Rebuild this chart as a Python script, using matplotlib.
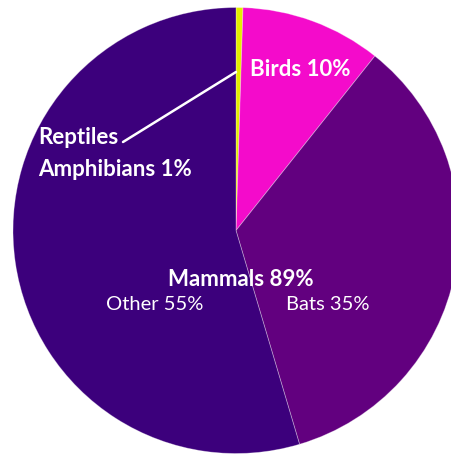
import matplotlib
matplotlib.use("Agg")
import matplotlib.pyplot as plt

# Data (clockwise from top)
categories = ["Reptiles Amphibians", "Birds", "Bats", "Other"]
values = [0.5, 10.2, 34.7, 54.6]
colors = ["#E3EE00", "#F40BCB", "#62007F", "#3C007C"]

W, H = 451, 455
fig = plt.figure(figsize=(W / 100, H / 100), dpi=100)
cx, cy, R = 236, 230.5, 223  # pixel geometry of pie
ax = fig.add_axes([(cx - R) / W, (H - cy - R) / H, 2 * R / W, 2 * R / H])

wedges, _ = ax.pie(values, colors=colors, startangle=90, counterclock=False,
                   radius=1, wedgeprops=dict(edgecolor=(1, 1, 1, 0.35), linewidth=0.6))
for w in wedges:
    w.set_clip_on(False)
ax.set_xlim(-1, 1)
ax.set_ylim(-1, 1)
ax.set_aspect("equal")
ax.axis("off")


def d(px, py):
    return ((px - cx) / R, (cy - py) / R)


fam = ["Lato", "DejaVu Sans"]
ax.text(*d(300, 70), "Birds 10%", color="white", fontsize=16, fontweight="bold",
        ha="center", va="center", family=fam)
ax.text(*d(38, 138), "Reptiles", color="white", fontsize=16, fontweight="bold",
        ha="left", va="center", family=fam)
ax.text(*d(38, 169), "Amphibians 1%", color="white", fontsize=16, fontweight="bold",
        ha="left", va="center", family=fam)
ax.annotate("", xy=d(236, 72), xytext=d(123, 142),
            arrowprops=dict(arrowstyle="-", color="white", lw=1.8, shrinkA=0, shrinkB=0))
ax.text(*d(241, 279), "Mammals 89%", color="white", fontsize=16, fontweight="bold",
        ha="center", va="center", family=fam)
ax.text(*d(155, 305), "Other 55%", color="white", fontsize=14.5,
        ha="center", va="center", family=fam)
ax.text(*d(328, 305), "Bats 35%", color="white", fontsize=14.5,
        ha="center", va="center", family=fam)

fig.savefig("out.png", dpi=100)
